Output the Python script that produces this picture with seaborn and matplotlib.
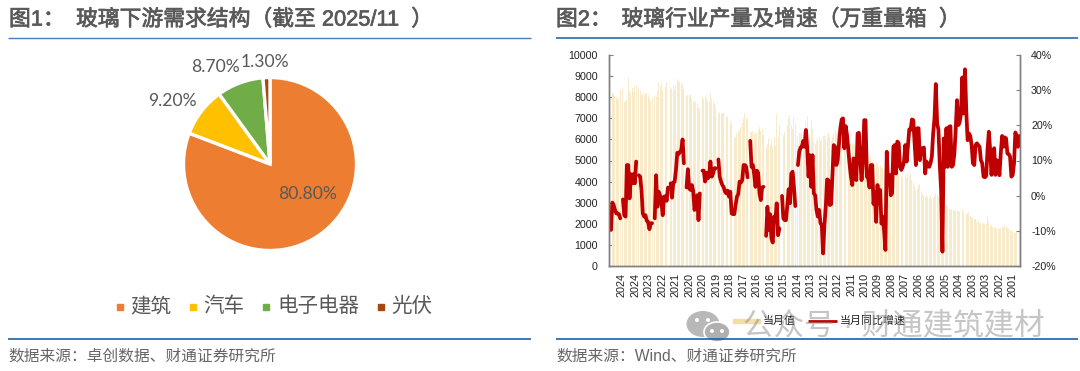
import numpy as np
import pandas as pd
import seaborn as sns
import matplotlib
matplotlib.use("Agg")
import matplotlib.pyplot as plt
import matplotlib.patheffects as pe
from matplotlib.patches import Rectangle, Ellipse
from matplotlib.lines import Line2D
from matplotlib.ticker import FuncFormatter

sns.set_theme(style="white")
FONT = ['Liberation Sans', 'Noto Sans CJK SC', 'DejaVu Sans']
plt.rcParams['font.family'] = FONT

# ---------- data ----------
pie_names = ['建筑', '汽车', '电子电器', '光伏']
pie_values = [80.8, 9.2, 8.7, 1.3]
pie_labels = ['80.80%', '9.20%', '8.70%', '1.30%']
pie_colors = ['#ED7D31', '#FFC000', '#70AD47', '#A5480F']

n = np.nan
output_value = [
 8200,8250,8250,8150,8050,8000,7900,7950,8350,n,
 8400,7800,7850,7900,8900,8300,8150,8450,8250,8550,
 8600,n,8450,8300,8050,8150,8100,8200,8200,8100,
 7950,7850,7900,n,8050,8000,8300,8750,8550,8700,
 8350,8750,8500,8750,8600,n,8500,8400,8550,8350,
 8600,8850,8800,8750,8700,8600,8400,n,8050,8100,
 8100,8100,7900,7800,7850,7800,7700,7500,7500,n,
 8050,7900,8000,7950,7850,7800,8200,7900,7850,7700,
 7500,n,7200,7300,7200,7250,7250,7350,7100,7050,
 7000,6900,6750,n,6050,6100,6300,6350,6500,6600,
 6800,7000,7250,7000,6950,n,6300,6350,6400,6300,
 6250,6300,6500,6600,6400,6500,6200,n,5650,5800,
 6050,5750,6000,5650,6100,5700,7200,6100,6700,n,
 6150,6200,6350,6400,6700,7000,7150,6700,6500,7050,
 6800,n,6100,6300,6250,6350,6400,6500,6900,7100,
 6300,6200,6900,6500,5900,5800,5950,6000,6100,5950,
 6000,6150,6150,6000,6200,6350,6100,5950,6100,6250,
 6400,6250,6350,6600,6900,7300,7300,6900,6300,6150,
 6000,5900,5800,5850,5750,5800,5700,5650,5500,5400,
 5300,5250,5450,5150,5050,5200,5000,5150,4950,4900,
 4850,4950,4800,4700,4750,4650,4700,4600,4500,4650,
 4500,4400,4450,4350,4400,4500,4300,4350,4450,4300,
 4200,4400,4250,4300,4150,4350,4300,4350,4050,3950,
 3750,3600,3650,3850,3900,3550,3400,3300,3250,3350,
 3250,3200,3300,3200,3250,3300,3450,3400,3250,3150,
 3100,3000,3000,2900,2950,2850,2700,2650,2700,2650,
 2650,2600,2650,2550,2600,2650,2700,2550,2500,2450,
 2500,2550,2350,2300,2250,2200,2200,2100,2150,2050,
 2050,2000,2050,2000,2000,2350,2100,1900,1950,1850,
 1850,1800,1800,1750,1800,1800,1850,1850,1950,1900,
 1800,1750,1700,1650,1600,1600,1550,1600,1600,1600,
]
yoy_growth = [
 -7.9,-9.8,-2,-2.7,-4.1,-5.1,-5.1,-5.3,-6.5,n,
 -1.1,-5.6,-6,8.7,8.7,-0.8,6.1,3.5,6.1,3.5,
 9.7,n,5.8,5.4,1.6,-5.1,-6,-5.6,-7.2,-7.5,
 -9.6,-7.9,-7.9,n,-6.5,5.8,-3.2,1.1,0,-1.8,
 -5.6,-0.3,-0.2,-1.5,2.3,n,3.5,-0.6,3.7,3.9,
 7.3,12.2,11.8,12.5,13,16,9.2,n,2.3,7.5,
 2,1.6,3,1.3,-4.1,-1.8,0.1,-7,0.6,n,
 7.1,7.1,4,6.5,4.9,5.5,9.7,5.4,6.3,7.8,
 7.8,n,10.3,5.4,4,3,2.4,1.1,0.6,1.4,
 -0.3,1.1,-5.1,-5.3,-5.3,-2.7,-0.3,0.4,4,3.7,
 4.4,8.7,8.7,8.2,5.2,n,15.6,8.2,8.7,6.1,
 2.5,7.1,6.5,0.6,-1.3,2.3,2.5,n,-11.5,-3.2,
 -9.8,-5.3,-12.2,-13.4,-6,-7,-2.2,-11.3,-9.4,n,
 -0.1,-6.5,-7,-7,-2.7,1.8,-2.2,6.3,6.8,2.5,
 -3,n,8.7,12.5,13.7,13.9,15.6,13.9,18.7,13.5,
 5.4,11.5,2.5,11.5,0.6,0.1,-4.1,-6,-4.1,-7.9,
 -8.4,-16.5,-8.4,-3.2,4.6,4.4,-2.7,-2.5,5.4,14.4,
 13.9,8.7,10.1,14.9,19.2,21.7,22,13.5,19.8,17.3,
 13,8.7,5.4,3,10.6,5.4,4.4,17.7,17.9,10.1,
 4.4,9.7,21.5,21.5,5.4,4.9,2.3,8.7,8.7,-2.4,
 1.1,-7.5,3,-2.2,1.6,-8,-6,-10,-15.5,12.5,
 3.5,5.9,0.1,0.6,13.9,14.4,6.3,15.4,14.9,8.2,
 7.3,8.2,9.7,14.4,9.7,14.4,18.9,18.7,21.7,21.5,
 14.9,8.7,19.2,19.2,10.1,13.5,13,13.7,6.3,9.7,
 8.7,8.2,9.2,11.1,17.7,22,31.8,20.6,18.7,8.7,
 1.6,-16,16.3,8.2,19.2,8.2,19.6,19.8,8.2,8.7,
 12,18.7,27.2,20.1,21,23.4,33.7,23.4,36,23.9,
 15.8,17.7,17,14.4,9.2,8.7,14.4,14.9,14.4,13.9,
 10.1,9.2,5.4,5.2,5.6,13,18.2,13,5.9,12,
 13.5,5.9,10.1,8.7,5.8,12,17,13.9,16.6,16.3,
 12,11.8,11.1,5.4,5.9,9.2,18,16.8,13.9,17,
]
year_ticks = ['2024','2024','2023','2022','2021','2020','2020','2019','2018','2017',
              '2016','2016','2015','2014','2013','2012','2012','2011','2010','2009',
              '2008','2007','2006','2006','2005','2004','2003','2003','2002','2001']
series_names = ['当月值', '当月同比增速']
left_ticks = [0,1000,2000,3000,4000,5000,6000,7000,8000,9000,10000]
right_ticks = [-20,-10,0,10,20,30,40]

# ---------- figure helpers ----------
W, H = 1080, 371
fig = plt.figure(figsize=(W/100, H/100), dpi=100, facecolor='white')
def px_axes(x0, y0, x1, y1, **kw):
    return fig.add_axes([x0/W, 1-y1/H, (x1-x0)/W, (y1-y0)/H], **kw)
def ftext(x, y, s, **kw):
    kw.setdefault('va', 'center'); kw.setdefault('ha', 'left')
    kw.setdefault('family', FONT)
    return fig.text(x/W, 1-y/H, s, **kw)
def hline(x0, x1, y, color, lw):
    fig.add_artist(Line2D([x0/W, x1/W], [1-y/H, 1-y/H], color=color, lw=lw, solid_capstyle='butt'))
def ell(cx, cy, w, h, **kw):
    fig.add_artist(Ellipse((cx/W, 1-cy/H), w/W, h/H, transform=fig.transFigure, **kw))

GREY = '#595959'
TITLE = '#595959'

# ---------- headers and footers ----------
for x, s in [(9, '图1：'), (76, '玻璃下游需求结构（截至 2025/11  ）'),
             (556, '图2：'), (621.5, '玻璃行业产量及增速（万重量箱  ）')]:
    t = ftext(x, 20, s, fontsize=15.7, color=TITLE)
    t.set_path_effects([pe.withStroke(linewidth=0.5, foreground=TITLE)])
hline(8, 531, 37.5, '#4A7EBB', 1.0)
hline(555.5, 1078, 37.5, '#4A7EBB', 1.4)
hline(8, 531, 338.5, '#1F5FA8', 1.2)
hline(555.5, 1078, 338.5, '#1F5FA8', 1.2)
ftext(8.5, 356, '数据来源：卓创数据、财通证券研究所', fontsize=11.3, color='#666666')
ftext(556, 356, '数据来源：Wind、财通证券研究所', fontsize=11.3, color='#666666')

# ---------- pie ----------
ax_pie = px_axes(183.5, 77.5, 356.5, 250.5)
ax_pie.pie(pie_values, colors=pie_colors, startangle=90, counterclock=False, radius=1,
           wedgeprops=dict(edgecolor='white', linewidth=2.4))
ax_pie.set_xlim(-1, 1); ax_pie.set_ylim(-1, 1)
ax_pie.set_aspect('equal'); ax_pie.axis('off')
pie_pos = [(308, 194), (172, 101), (216, 67), (265, 62)]
for (x, y), s in zip(pie_pos, pie_labels):
    ftext(x, y, s, ha='center', fontsize=12.6, color=GREY, family=['Lato', 'DejaVu Sans'])
sq = [119.6, 193, 266, 381]
tx = [130, 203, 277, 391]
for xs, xt, name, c in zip(sq, tx, pie_names, pie_colors):
    fig.add_artist(Rectangle(((xs-3)/W, 1-310/H), 6/W, 6/H, color=c, transform=fig.transFigure))
    ftext(xt, 306.5, name, fontsize=14.8, color=GREY)

# ---------- combo chart ----------
df = pd.DataFrame({'pos': np.arange(len(output_value)), 'value': output_value, 'yoy': yoy_growth})
ax = px_axes(609, 55.3, 1020, 265.7)
sns.barplot(data=df, x='pos', y='value', color='#F8EBCB', width=0.72, saturation=1,
            native_scale=True, ax=ax, errorbar=None, linewidth=0)
ax.set_xlim(-0.5, len(output_value)-0.5)
ax.set_ylim(0, 10000)
ax.set_yticks(left_ticks)
ax.set_xticks(np.linspace(9.3, 304, len(year_ticks)))
ax.set_xticklabels(year_ticks, rotation=90)
ax.set_xlabel(''); ax.set_ylabel('')
ax.tick_params(axis='x', length=0, pad=5, labelsize=7.8, labelcolor='#222222')
ax.tick_params(axis='y', direction='in', length=3, width=0.8, color='#7f7f7f', pad=8,
               labelsize=7.7, labelcolor='#222222', left=True)

ax2 = ax.twinx()
df['seg'] = df['yoy'].isna().cumsum()
sns.lineplot(data=df.dropna(subset=['yoy']), x='pos', y='yoy', units='seg', estimator=None,
             color='#C00000', linewidth=2.7, ax=ax2, legend=False, sort=False,
             solid_capstyle='round', solid_joinstyle='round')
ax2.set_ylim(-20, 40)
ax2.set_yticks(right_ticks)
ax2.yaxis.set_major_formatter(FuncFormatter(lambda v, _: f'{int(v)}%'))
ax2.set_xlabel(''); ax2.set_ylabel('')
ax2.tick_params(axis='y', direction='in', length=3, width=0.8, color='#7f7f7f', pad=8,
                labelsize=7.7, labelcolor='#222222', right=True)
ax2.grid(False); ax.grid(False)
for a in (ax, ax2):
    a.spines['top'].set_visible(False)
    for s in ('left', 'right', 'bottom'):
        a.spines[s].set_color('#7f7f7f'); a.spines[s].set_linewidth(1.0)

# legend of the combo chart
fig.add_artist(Rectangle((733/W, 1-323/H), 27/W, 4/H, color='#F3DFA6', transform=fig.transFigure))
ftext(763, 321, series_names[0], fontsize=7.9, color='#222222')
hline(808, 837, 321, '#C00000', 2.0)
ftext(839.5, 321, series_names[1], fontsize=7.9, color='#222222')

# watermark
wm = '#8c8c8c'
ell(703, 324, 33, 26, facecolor='#b8b8b8', edgecolor='none')
ell(717, 332, 26, 20, facecolor='#b0b0b0', edgecolor='white', linewidth=1.2)
for cx, cy in [(697, 320), (708, 320), (712, 331), (722, 331)]:
    ell(cx, cy, 4, 4, facecolor='white', edgecolor='none')
ftext(743, 326, '公众号 · 财通建筑建材', fontsize=22, color=wm, alpha=0.5)

fig.savefig('out.png', dpi=100, facecolor='white')
